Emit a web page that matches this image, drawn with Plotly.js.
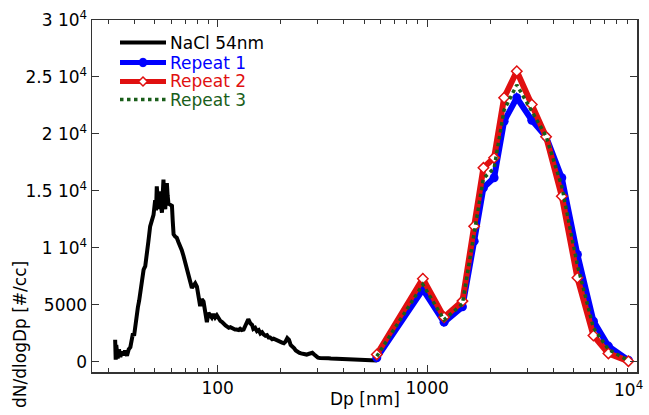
<!DOCTYPE html>
<html>
<head>
<meta charset="utf-8">
<script src="https://cdn.plot.ly/plotly-3.0.1.min.js"></script>
<style>
html,body{margin:0;padding:0;background:#fff;}
#chart{width:649px;height:415px;}
</style>
</head>
<body>
<div id="chart"></div>
<script>
// NaCl 54nm (SMPS)
const naclDp = [32.4,32.6,32.8,33.3,33.8,34.3,34.9,35.5,36.1,36.9,37.6,38.3,38.9,39.4,39.9,40.4,41.0,41.6,42.2,42.7,43.5,44.3,45.1,45.9,46.7,47.6,48.5,49.4,50.3,50.8,51.2,51.7,52.2,52.7,53.2,53.7,54.2,54.6,55.1,55.6,56.2,56.7,57.2,57.7,58.2,59.3,60.5,61.0,61.6,62.7,63.8,65.0,66.2,67.4,68.7,70.0,71.3,72.6,74.0,75.3,76.7,78.1,79.6,81.0,82.5,84.0,85.6,87.2,88.8,90.4,92.1,93.8,95.5,97.3,99.1,101,103,105,107,109,111,113,115,117,119,121,123,126,128,130,133,135,138,140,143,146,148,151,154,157,160,163,166,169,172,175,178,182,185,189,192,196,200,203,207,211,215,219,223,228,232,236,241,246,250,255,260,266,271,277,283,289,295,301,308,315,322,330,338,347,356,366,376,387,398,410,423,437,451,466,482,499,517,536,556,575];
const naclN = [1950,200,1500,300,1100,450,900,600,1000,550,1100,1300,2000,2500,2300,3300,3700,4800,5400,6100,6800,8100,8400,10000,10600,11900,12400,12900,14200,13300,15400,14000,13400,14900,14800,13600,13100,14500,16000,14200,13400,14800,15700,14600,13900,13800,13700,12400,11200,11000,10900,10500,10200,9800,9300,8700,8100,7400,6700,6500,6700,6900,6600,5600,4900,5500,5300,4400,3500,4300,4100,3900,4200,3900,4100,3800,3600,3500,3300,3200,3100,3000,3050,2950,2900,2850,2850,2800,2900,2800,2850,3100,3500,3750,3400,3250,2900,3000,2700,2800,2500,2600,2400,2300,2350,2150,2150,2000,2050,1950,1950,1800,1750,1700,1650,1800,2100,1950,1500,1350,1200,1000,850,800,750,700,650,650,700,750,800,650,450,380,350,360,340,330,320,300,290,270,260,250,240,230,220,210,200,190,180,170,160,150,140,130];

// Repeats (APS bins)
const apsDp = [575,954,1205,1474,1677,1857,2088,2331,2680,3160,3698,4395,5218,6224,7335,9141];
const repeat1 = [370,6360,3490,4840,10600,15280,16160,21120,23180,21210,19750,16160,9430,3580,1390,160];
const repeat2 = [660,7300,3930,5340,11910,17030,17910,23180,25510,22590,19750,14540,7390,2320,750,70];
const repeat3 = [500,6800,3700,5100,11300,16100,17000,22100,24300,22000,19800,15400,8500,3000,1100,120];

// Series names / tick labels
const seriesNames = ['NaCl 54nm','Repeat 1','Repeat 2','Repeat 3'];
const xTickVals = [100,1000,10000];
const xTickText = ['100','1000',''];
const xLastTickText = '10<sup>4</sup>';
const xMinorVals = [30,40,50,60,70,80,90,200,300,400,500,600,700,800,900,2000,3000,4000,5000,6000,7000,8000,9000];
const yTickVals = [0,5000,10000,15000,20000,25000,30000];
const yTickText = ['0','5000','1 10<sup>4</sup>','1.5 10<sup>4</sup>','2 10<sup>4</sup>','2.5 10<sup>4</sup>','3 10<sup>4</sup>'];

const FONT = 'DejaVu Sans, Arial, sans-serif';
const colors = ['#000000','#0000ff','#e01010','#1a5e1a'];

const traces = [
  {x: naclDp, y: naclN, type:'scatter', mode:'lines', name:seriesNames[0],
   line:{color:colors[0], width:4}},
  {x: apsDp, y: repeat1, type:'scatter', mode:'lines+markers', name:seriesNames[1],
   line:{color:colors[1], width:6},
   marker:{symbol:'circle', size:9, color:colors[1]}},
  {x: apsDp, y: repeat2, type:'scatter', mode:'lines+markers', name:seriesNames[2],
   line:{color:colors[2], width:6},
   marker:{symbol:'diamond', size:8, color:'#ffffff', line:{color:colors[2], width:1.5}}},
  {x: apsDp, y: repeat3, type:'scatter', mode:'lines', name:seriesNames[3],
   line:{color:colors[3], width:3.5, dash:'dot'}}
];

// ---- custom legend (layout geometry in pixels, converted to paper coords) ----
const M = {l:92, r:12, t:20, b:43};
const PW = 649 - M.l - M.r, PH = 415 - M.t - M.b;
const px = v => (v - M.l) / PW;
const py = v => (415 - M.b - v) / PH;
const legX0 = 120, legX1 = 166, legTextX = 168, legMid = 143;
const legY = [42.5, 62.5, 81.5, 99.5];
const shapes = [];
const annotations = [];
const lineStyles = [
  {color:colors[0], width:4},
  {color:colors[1], width:5},
  {color:colors[2], width:5},
  {color:colors[3], width:3.5, dash:'dot'}
];
legY.forEach((yy, i) => {
  shapes.push({type:'line', xref:'paper', yref:'paper', x0:px(legX0), x1:px(legX1), y0:py(yy), y1:py(yy), line:lineStyles[i]});
  annotations.push({text:seriesNames[i], xref:'paper', yref:'paper', x:px(legTextX), y:py(yy),
    xanchor:'left', yanchor:'middle', showarrow:false, font:{family:FONT, size:17, color:colors[i]}});
});
// blue circle marker sample
const r = 4.2;
shapes.push({type:'circle', xref:'paper', yref:'paper', x0:px(legMid - r), x1:px(legMid + r),
  y0:py(legY[1] + r), y1:py(legY[1] - r), fillcolor:colors[1], line:{color:colors[1], width:1}});
// red diamond marker sample
const d = 4.5;
shapes.push({type:'path', xref:'paper', yref:'paper',
  path:`M ${px(legMid)} ${py(legY[2]-d)} L ${px(legMid+d)} ${py(legY[2])} L ${px(legMid)} ${py(legY[2]+d)} L ${px(legMid-d)} ${py(legY[2])} Z`,
  fillcolor:'#ffffff', line:{color:colors[2], width:1.5}});

// last x tick label, kept inside the page
annotations.push({text:xLastTickText, xref:'paper', yref:'paper', x:px(645), y:py(376),
  xanchor:'right', yanchor:'top', showarrow:false, font:{family:FONT, size:17, color:'#000'}});

// axis titles
annotations.push({text:'Dp [nm]', xref:'paper', yref:'paper', x:0.5, y:py(399),
  xanchor:'center', yanchor:'middle', showarrow:false, font:{family:FONT, size:17, color:'#000'}});
annotations.push({text:'dN/dlogDp [#/cc]', xref:'paper', yref:'paper', x:px(20), y:py(335),
  xanchor:'center', yanchor:'middle', textangle:-90, showarrow:false, font:{family:FONT, size:17, color:'#000'}});

const layout = {
  width:649, height:415,
  margin:M,
  paper_bgcolor:'#fff', plot_bgcolor:'#fff',
  font:{family:FONT, size:17, color:'#000'},
  showlegend:false,
  xaxis:{type:'log', range:[1.400, 4.002], tickmode:'array', tickvals:xTickVals, ticktext:xTickText,
         ticks:'inside', ticklen:7, tickwidth:1, tickcolor:'#333',
         minor:{tickmode:'array', tickvals:xMinorVals, ticks:'inside', ticklen:4, tickwidth:1, tickcolor:'#333'},
         showline:true, linecolor:'#333', linewidth:1.5, mirror:'allticks',
         showgrid:false, zeroline:false,
         tickfont:{family:FONT, size:17}},
  yaxis:{range:[-880, 30000], tickmode:'array', tickvals:yTickVals, ticktext:yTickText,
         ticks:'inside', ticklen:7, tickwidth:1, tickcolor:'#333',
         showline:true, linecolor:'#333', linewidth:1.5, mirror:'allticks',
         showgrid:false, zeroline:false,
         tickfont:{family:FONT, size:17}},
  shapes: shapes,
  annotations: annotations
};

Plotly.newPlot('chart', traces, layout, {displayModeBar:false, staticPlot:true});
</script>
</body>
</html>
